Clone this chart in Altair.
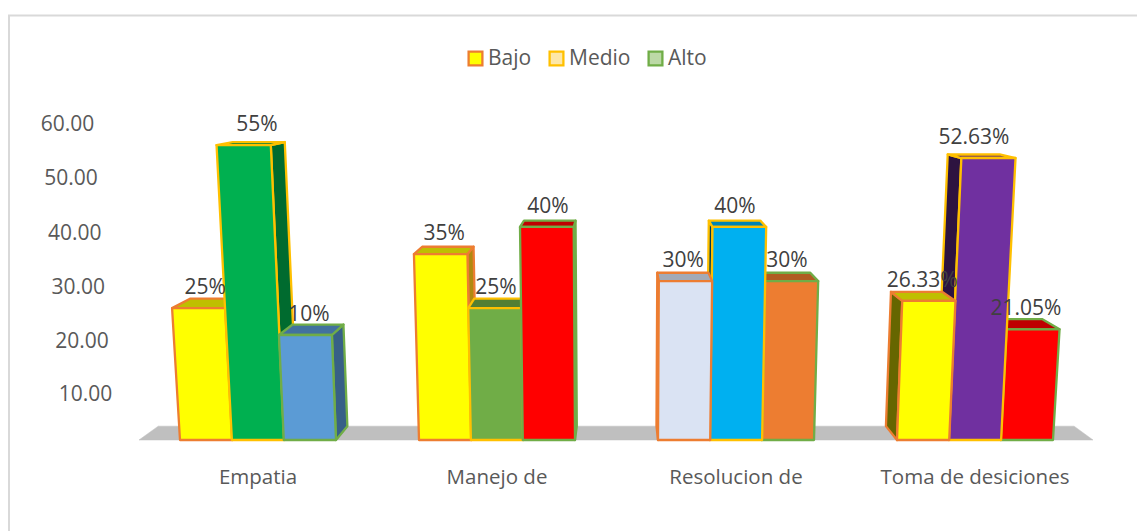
import altair as alt

categories = ["Empatia", "Manejo de", "Resolucion de", "Toma de desiciones"]
series = ["Bajo", "Medio", "Alto"]
bajo = [25, 35, 30, 26.33]
medio = [55, 25, 40, 52.63]
alto = [20, 40, 30, 21.05]
bajo_labels = ["25%", "35%", "30%", "26.33%"]
medio_labels = ["55%", "25%", "40%", "52.63%"]
alto_labels = ["10%", "40%", "30%", "21.05%"]
y_ticks = [10, 20, 30, 40, 50, 60]

front = [["#ffff00", "#ffff00", "#dae3f3", "#ffff00"],
         ["#00b050", "#70ad47", "#00b0f0", "#7030a0"],
         ["#5b9bd5", "#ff0000", "#ed7d31", "#ff0000"]]
top = [["#bfbf00", "#bfbf00", "#a3aab6", "#bfbf00"],
       ["#007a38", "#537f33", "#0083b4", "#541f78"],
       ["#42729e", "#bf0000", "#b05c22", "#bf0000"]]
side = [["#666600", "#b08a10", "#6d7179", "#666600"],
        ["#006b2f", "#3f6027", "#003b52", "#2d1340"],
        ["#376087", "#8a0000", "#7a3e16", "#8a0000"]]
edges = ["#ed7d31", "#ffc000", "#70ad47"]
legend_fill = ["#ffff00", "#fde7a8", "#bcd9a6"]

W, H = 1129, 424
LEFT = 8
EXP = 1.021
PXC = 4.93
DOM = (H / PXC) ** (1 / EXP)
VX, VV = 620.0, 68.75
SHRINK = 0.04
LEAN = 0.00072
STEP, BW = 239.0, 52.2
X_START = 180.0
AXIS_X = 116.0
FONT = "Open Sans"

x_scale = alt.Scale(domain=[LEFT, LEFT + W], range=[0, W])
y_scale = alt.Scale(type="pow", exponent=EXP, domain=[0, DOM], range=[H, 0])


def lean(X, v):
    return VX + (X - VX) * (1 + LEAN * v)


def project(X, v, d):
    f = 1 - SHRINK * d
    return VX + (lean(X, v) - VX) * f, VV + (v - VV) * f


def xy():
    return dict(x=alt.X("x:Q", scale=x_scale, axis=None), y=alt.Y("y:Q", scale=y_scale, axis=None))


def poly(pts, fill, stroke, width=2.3):
    rows = [{"x": p[0], "y": p[1], "i": i} for i, p in enumerate(pts)]
    return (
        alt.Chart(alt.Data(values=rows))
        .mark_line(interpolate="linear-closed", fill=fill, stroke=stroke,
                   strokeWidth=width, strokeJoin="round", clip=False)
        .encode(order="i:Q", **xy())
    )


layers = []

# legend carrier
legend_rows = [{"s": s, "x": 620.0, "y": 1.0} for s in series]
layers.append(
    alt.Chart(alt.Data(values=legend_rows))
    .mark_square(opacity=0, size=10)
    .encode(
        fill=alt.Fill("s:N", scale=alt.Scale(domain=series, range=legend_fill),
                      legend=alt.Legend(orient="none", legendX=457, legendY=32, title=None,
                                        direction="horizontal", columns=3, symbolType="square",
                                        symbolSize=190, symbolStrokeWidth=2.3, symbolOpacity=1,
                                        labelFont=FONT, labelFontSize=21, labelColor="#595959",
                                        columnPadding=13, labelOffset=2)),
        stroke=alt.Stroke("s:N", scale=alt.Scale(domain=series, range=edges), legend=None),
        **xy(),
    )
)

# frame
for enc in (
    dict(x=alt.value(0), x2=alt.value(W), y=alt.value(-0.5)),
    dict(x=alt.value(1), y=alt.value(-1), y2=alt.value(H + 91)),
):
    layers.append(alt.Chart(alt.Data(values=[{"a": 1}]))
                  .mark_rule(color="#d9d9d9", strokeWidth=2, clip=False).encode(**enc))

# ground
g0, g1 = 139.0, 1093.0
layers.append(poly([project(g0, 0, 0), project(g1, 0, 0), project(g1, 0, 1), project(g0, 0, 1)],
                   "#bfbfbf", "#bfbfbf", 0.5))

# bars, painted from the outside towards the centre
bars = []
for j, vals in enumerate([bajo, medio, alto]):
    for c, v in enumerate(vals):
        x0 = X_START + c * STEP + j * (BW - 0.3)
        bars.append((x0, x0 + BW, v, j, c))
bars.sort(key=lambda b: -abs((b[0] + b[1]) / 2 - VX))

for x0, x1, v, j, c in bars:
    ex = x1 if (x0 + x1) / 2 < VX else x0
    layers.append(poly([project(ex, 0, 0), project(ex, v, 0), project(ex, v, 1), project(ex, 0, 1)],
                       side[j][c], edges[j]))
    layers.append(poly([project(x0, v, 0), project(x1, v, 0), project(x1, v, 1), project(x0, v, 1)],
                       top[j][c], edges[j]))
    layers.append(poly([project(x0, 0, 0), project(x1, 0, 0), project(x1, v, 0), project(x0, v, 0)],
                       front[j][c], edges[j]))

# value labels
label_rows = []
for j, (vals, labs) in enumerate(zip([bajo, medio, alto], [bajo_labels, medio_labels, alto_labels])):
    for c, (v, t) in enumerate(zip(vals, labs)):
        x0 = X_START + c * STEP + j * (BW - 0.3)
        label_rows.append({"x": x0 + BW / 2 - 1, "y": v, "t": t})
layers.append(
    alt.Chart(alt.Data(values=label_rows))
    .mark_text(font=FONT, fontSize=21, color="#404040", dy=-20, clip=False)
    .encode(text="t:N", **xy())
)

# category labels
cat_rows = [{"x": X_START + 78 + i * STEP, "y": 0, "t": t} for i, t in enumerate(categories)]
layers.append(
    alt.Chart(alt.Data(values=cat_rows))
    .mark_text(font=FONT, fontSize=20.5, color="#595959", dy=38, clip=False)
    .encode(text="t:N", **xy())
)

# value-axis labels, following the same perspective as the bars
tick_rows = [{"x": lean(AXIS_X, v), "y": v, "t": f"{v:.2f}"} for v in y_ticks]
layers.append(
    alt.Chart(alt.Data(values=tick_rows))
    .mark_text(font=FONT, fontSize=21, color="#595959", align="right", dy=7, clip=False)
    .encode(text="t:N", **xy())
)

chart = (
    alt.layer(*layers)
    .properties(width=W, height=H, autosize=alt.AutoSizeParams(type="none"),
                padding={"left": 0, "right": 0, "top": 8, "bottom": 91}, background="white")
    .configure_view(stroke=None)
)

chart.save("out.html", embed_options={"renderer": "svg", "actions": False})
